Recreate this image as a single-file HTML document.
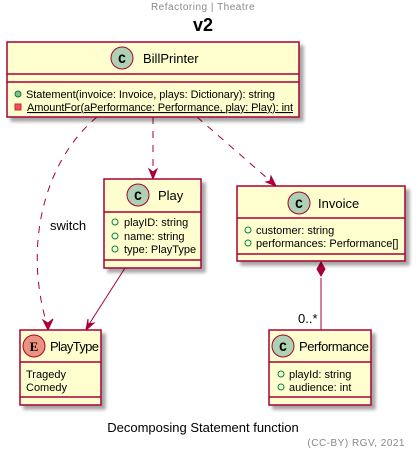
<!DOCTYPE html>
<html><head><meta charset="utf-8"><style>
body{margin:0;background:#fff}
svg{display:block;font-family:"Liberation Sans",sans-serif}
</style></head><body>
<svg width="418" height="454" viewBox="0 0 418 454" xmlns="http://www.w3.org/2000/svg">
<defs>
<filter id="sh" x="-10%" y="-10%" width="130%" height="130%"><feGaussianBlur in="SourceAlpha" stdDeviation="1.5"/><feOffset dx="4" dy="4"/><feComponentTransfer><feFuncA type="linear" slope="0.35"/></feComponentTransfer><feMerge><feMergeNode/><feMergeNode in="SourceGraphic"/></feMerge></filter>
</defs>
<text x="203" y="10" font-size="10" fill="#888" text-anchor="middle" letter-spacing="0.5">Refactoring | Theatre</text>
<text x="203" y="31" font-size="18" font-weight="bold" text-anchor="middle">v2</text>

<g stroke="#A80036" fill="none" stroke-width="1">
<path d="M97,117 C45,160 22,245 48,328" stroke-dasharray="7,7"/>
<path d="M153,117 L153,177" stroke-dasharray="7,7"/>
<path d="M197,117 L275,185" stroke-dasharray="7,7"/>
<path d="M125,268 L86,329"/>
<path d="M321,278 L321,330"/>
</g>
<g fill="#A80036" stroke="#A80036">
<path d="M48,330 L43,320 L48,323 L53,319 Z"/>
<path d="M153,179 L149,169 L153,172 L157,169 Z"/>
<path d="M276,186 L266,182 L270,181 L271,176 Z"/>
<path d="M86,330 L88,319 L88,324 L94,323 Z"/>
<path d="M321,262 L325,269 L321,276 L317,269 Z"/>
</g>
<text x="50" y="230" font-size="13">switch</text>
<text x="298" y="323" font-size="13">0..*</text>

<g fill="#FEFECE" stroke="#A80036" stroke-width="1.5" filter="url(#sh)">
<rect x="7" y="42" width="292" height="75"/>
<rect x="104" y="179" width="97" height="89"/>
<rect x="237" y="186" width="168" height="75"/>
<rect x="20" y="330" width="81" height="75"/>
<rect x="269" y="330" width="102" height="75"/>
</g>
<g stroke="#A80036" stroke-width="1.5">
<line x1="7" y1="74" x2="299" y2="74"/><line x1="7" y1="82" x2="299" y2="82"/>
<line x1="104" y1="212" x2="201" y2="212"/><line x1="104" y1="260" x2="201" y2="260"/>
<line x1="237" y1="218" x2="405" y2="218"/><line x1="237" y1="254" x2="405" y2="254"/>
<line x1="20" y1="362" x2="101" y2="362"/><line x1="20" y1="397" x2="101" y2="397"/>
<line x1="269" y1="362" x2="371" y2="362"/><line x1="269" y1="397" x2="371" y2="397"/>
</g>
<g stroke="#A80036" stroke-width="1">
<circle cx="122" cy="58" r="11" fill="#ADD1B2"/>
<circle cx="138" cy="195" r="11" fill="#ADD1B2"/>
<circle cx="299" cy="203" r="11" fill="#ADD1B2"/>
<circle cx="34" cy="346" r="11" fill="#EB937F"/>
<circle cx="283" cy="346" r="11" fill="#ADD1B2"/>
</g>
<g font-size="13" font-weight="bold" text-anchor="middle" font-family="Liberation Mono,monospace">
<text x="122" y="63">C</text><text x="138" y="200">C</text><text x="299" y="208">C</text>
<text x="34" y="351" font-family="Liberation Serif,serif">E</text><text x="283" y="351">C</text>
</g>
<g font-size="13">
<text x="143" y="63">BillPrinter</text>
<text x="158" y="200">Play</text>
<text x="318" y="208">Invoice</text>
<text x="50" y="351" textLength="49">PlayType</text>
<text x="299" y="351" textLength="70">Performance</text>
</g>
<g font-size="11">
<circle cx="18" cy="94" r="3" fill="#84BE84" stroke="#038048"/>
<text x="26" y="98" textLength="249">Statement(invoice: Invoice, plays: Dictionary): string</text>
<rect x="15" y="104" width="6" height="6" fill="#F24D5C" stroke="#C82930"/>
<text x="27" y="111" text-decoration="underline" textLength="266">AmountFor(aPerformance: Performance, play: Play): int</text>
<g fill="none" stroke="#038048">
<circle cx="115" cy="222" r="3"/><circle cx="115" cy="236" r="3"/><circle cx="115" cy="249" r="3"/>
<circle cx="248" cy="230" r="3"/><circle cx="248" cy="243" r="3"/>
<circle cx="281" cy="374" r="3"/><circle cx="281" cy="387" r="3"/>
</g>
<text x="124" y="226">playID: string</text>
<text x="124" y="240">name: string</text>
<text x="124" y="253">type: PlayType</text>
<text x="256" y="234">customer: string</text>
<text x="256" y="247">performances: Performance[]</text>
<text x="26" y="378">Tragedy</text>
<text x="26" y="391">Comedy</text>
<text x="289" y="378">playId: string</text>
<text x="289" y="391">audience: int</text>
</g>
<text x="203" y="432" font-size="13" text-anchor="middle">Decomposing Statement function</text>
<text x="405" y="446" font-size="10" fill="#888" text-anchor="end" letter-spacing="0.5">(CC-BY) RGV, 2021</text>
</svg>
</body></html>
